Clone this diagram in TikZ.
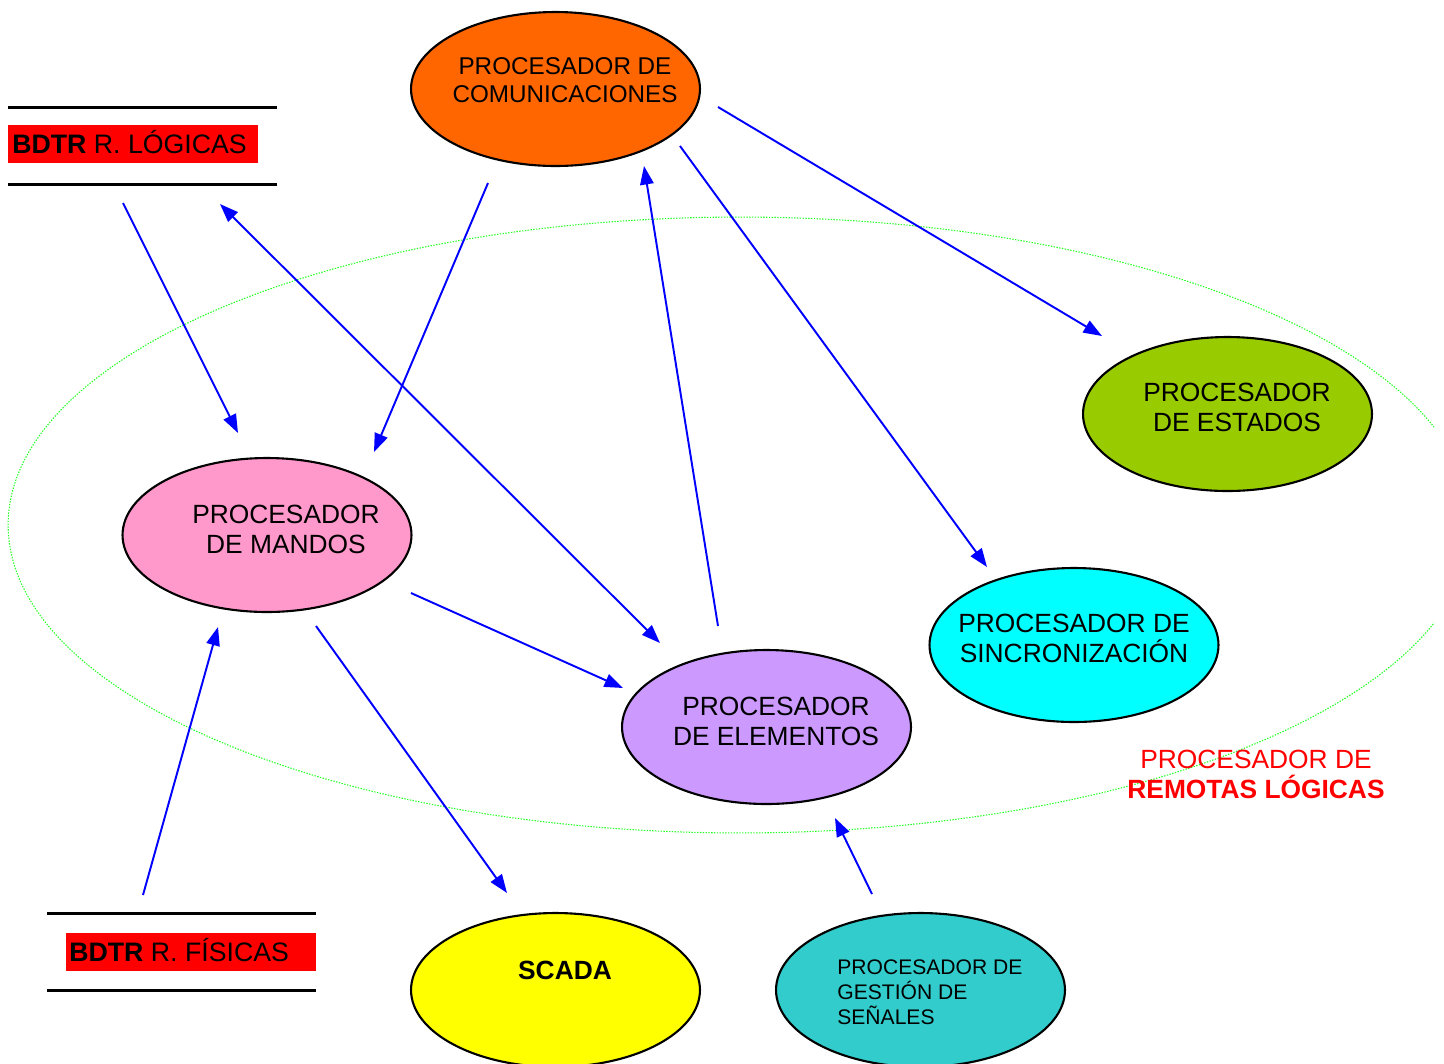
\documentclass[tikz,border=0pt]{standalone}
\usepackage{fontspec}
\setmainfont{Liberation Sans}
\usetikzlibrary{shapes.geometric,arrows.meta}

\definecolor{cOrange}{HTML}{FF6600}
\definecolor{cPink}{HTML}{FF99CC}
\definecolor{cLime}{HTML}{99CC00}
\definecolor{cCyan}{HTML}{00FFFF}
\definecolor{cLav}{HTML}{CC99FF}
\definecolor{cYellow}{HTML}{FFFF00}
\definecolor{cTeal}{HTML}{33CCCC}
\definecolor{cBlue}{HTML}{0000FF}
\definecolor{cRed}{HTML}{FF0000}
\definecolor{cDot}{HTML}{22FF22}

\tikzset{
  proc/.style={ellipse, draw=black, line width=1.2pt, minimum width=5.78cm,
    minimum height=3.08cm, inner sep=0pt},
  txt/.style={align=center, inner sep=0pt, font=\fontsize{15pt}{17pt}\selectfont},
  smalltxt/.style={align=left, inner sep=0pt, font=\fontsize{12pt}{14.2pt}\selectfont},
  arr/.style={draw=cBlue, line width=1.1pt, -{Triangle[length=0.37cm,width=0.27cm]}},
  darr/.style={draw=cBlue, line width=1.1pt,
    {Triangle[length=0.37cm,width=0.27cm]}-{Triangle[length=0.37cm,width=0.27cm]}},
  rule/.style={line width=1.7pt, black},
  tag/.style={anchor=west, inner sep=0pt, font=\fontsize{15.2pt}{17pt}\selectfont},
  region/.style={draw=cDot, line width=0.6pt, dash pattern=on 0.8pt off 0.8pt}
}

\begin{document}
\begin{tikzpicture}[x=0.02cm, y=-0.02cm]
\useasboundingbox (0,0) rectangle (1444,1063);

% dotted boundary of the logical remotes processor
\begin{scope}
  \clip (0,0) rectangle (1434,1063);
  \draw[region] (740,525) ellipse [x radius=14.64cm, y radius=6.16cm];
\end{scope}

% BDTR blocks
\draw[rule] (8,107) -- (277,107);
\draw[rule] (8,184) -- (277,184);
\fill[cRed] (8,125) rectangle (258,163);
\node[tag] (bdtrl) at (12,142.5) {\textbf{BDTR} R. LÓGICAS};

\draw[rule] (47,913) -- (316,913);
\draw[rule] (47,990) -- (316,990);
\fill[cRed] (66,933) rectangle (316,971);
\node[tag] (bdtrf) at (69,950.5) {\textbf{BDTR} R. FÍSICAS};

% processors
\node[proc, fill=cOrange] (com) at (555.5,89) {};
\node[txt, font=\fontsize{13.8pt}{16pt}\selectfont] (comt) at (565,80.5) {PROCESADOR DE\\COMUNICACIONES};

\node[proc, fill=cPink] (man) at (267,535) {};
\node[txt] (mant) at (286,529.5) {PROCESADOR\\DE MANDOS};

\node[proc, fill=cLime] (est) at (1227.5,414) {};
\node[txt] (estt) at (1237,407.5) {PROCESADOR\\DE ESTADOS};

\node[proc, fill=cCyan] (sin) at (1074,645) {};
\node[txt] (sint) at (1074,638.5) {PROCESADOR DE\\SINCRONIZACIÓN};

\node[proc, fill=cLav] (ele) at (766.5,727) {};
\node[txt] (elet) at (776,721.5) {PROCESADOR\\DE ELEMENTOS};

\node[proc, fill=cYellow] (sca) at (555.5,990) {};
\node[txt, font=\fontsize{15pt}{17pt}\selectfont\bfseries] (scat) at (565,970) {SCADA};

\node[proc, fill=cTeal] (ges) at (920.5,990) {};
\node[smalltxt, anchor=west] (gest) at (837,992) {PROCESADOR DE\\GESTIÓN DE\\SEÑALES};

% region label
\node[txt, text=cRed] (remt) at (1256,774) {PROCESADOR DE\\\textbf{REMOTAS LÓGICAS}};

% connector end points
\coordinate (a1s) at (123,203);  \coordinate (a1e) at (238,433);
\coordinate (a2s) at (488,183);  \coordinate (a2e) at (374,452);
\coordinate (a3s) at (220,204);  \coordinate (a3e) at (660,643);
\coordinate (a4s) at (718,626);  \coordinate (a4e) at (644,166);
\coordinate (a5s) at (680,146);  \coordinate (a5e) at (987,567);
\coordinate (a6s) at (718,107);  \coordinate (a6e) at (1102,336);
\coordinate (a7s) at (411,593);  \coordinate (a7e) at (623,688);
\coordinate (a8s) at (316,626);  \coordinate (a8e) at (507,893);
\coordinate (a9s) at (143,895);  \coordinate (a9e) at (218,627);
\coordinate (a10s) at (872,894); \coordinate (a10e) at (835,818);

% connectors
\draw[arr] (a1s) -- (a1e);
\draw[arr] (a2s) -- (a2e);
\draw[darr] (a3s) -- (a3e);
\draw[arr] (a4s) -- (a4e);
\draw[arr] (a5s) -- (a5e);
\draw[arr] (a6s) -- (a6e);
\draw[arr] (a7s) -- (a7e);
\draw[arr] (a8s) -- (a8e);
\draw[arr] (a9s) -- (a9e);
\draw[arr] (a10s) -- (a10e);
\end{tikzpicture}
\end{document}
